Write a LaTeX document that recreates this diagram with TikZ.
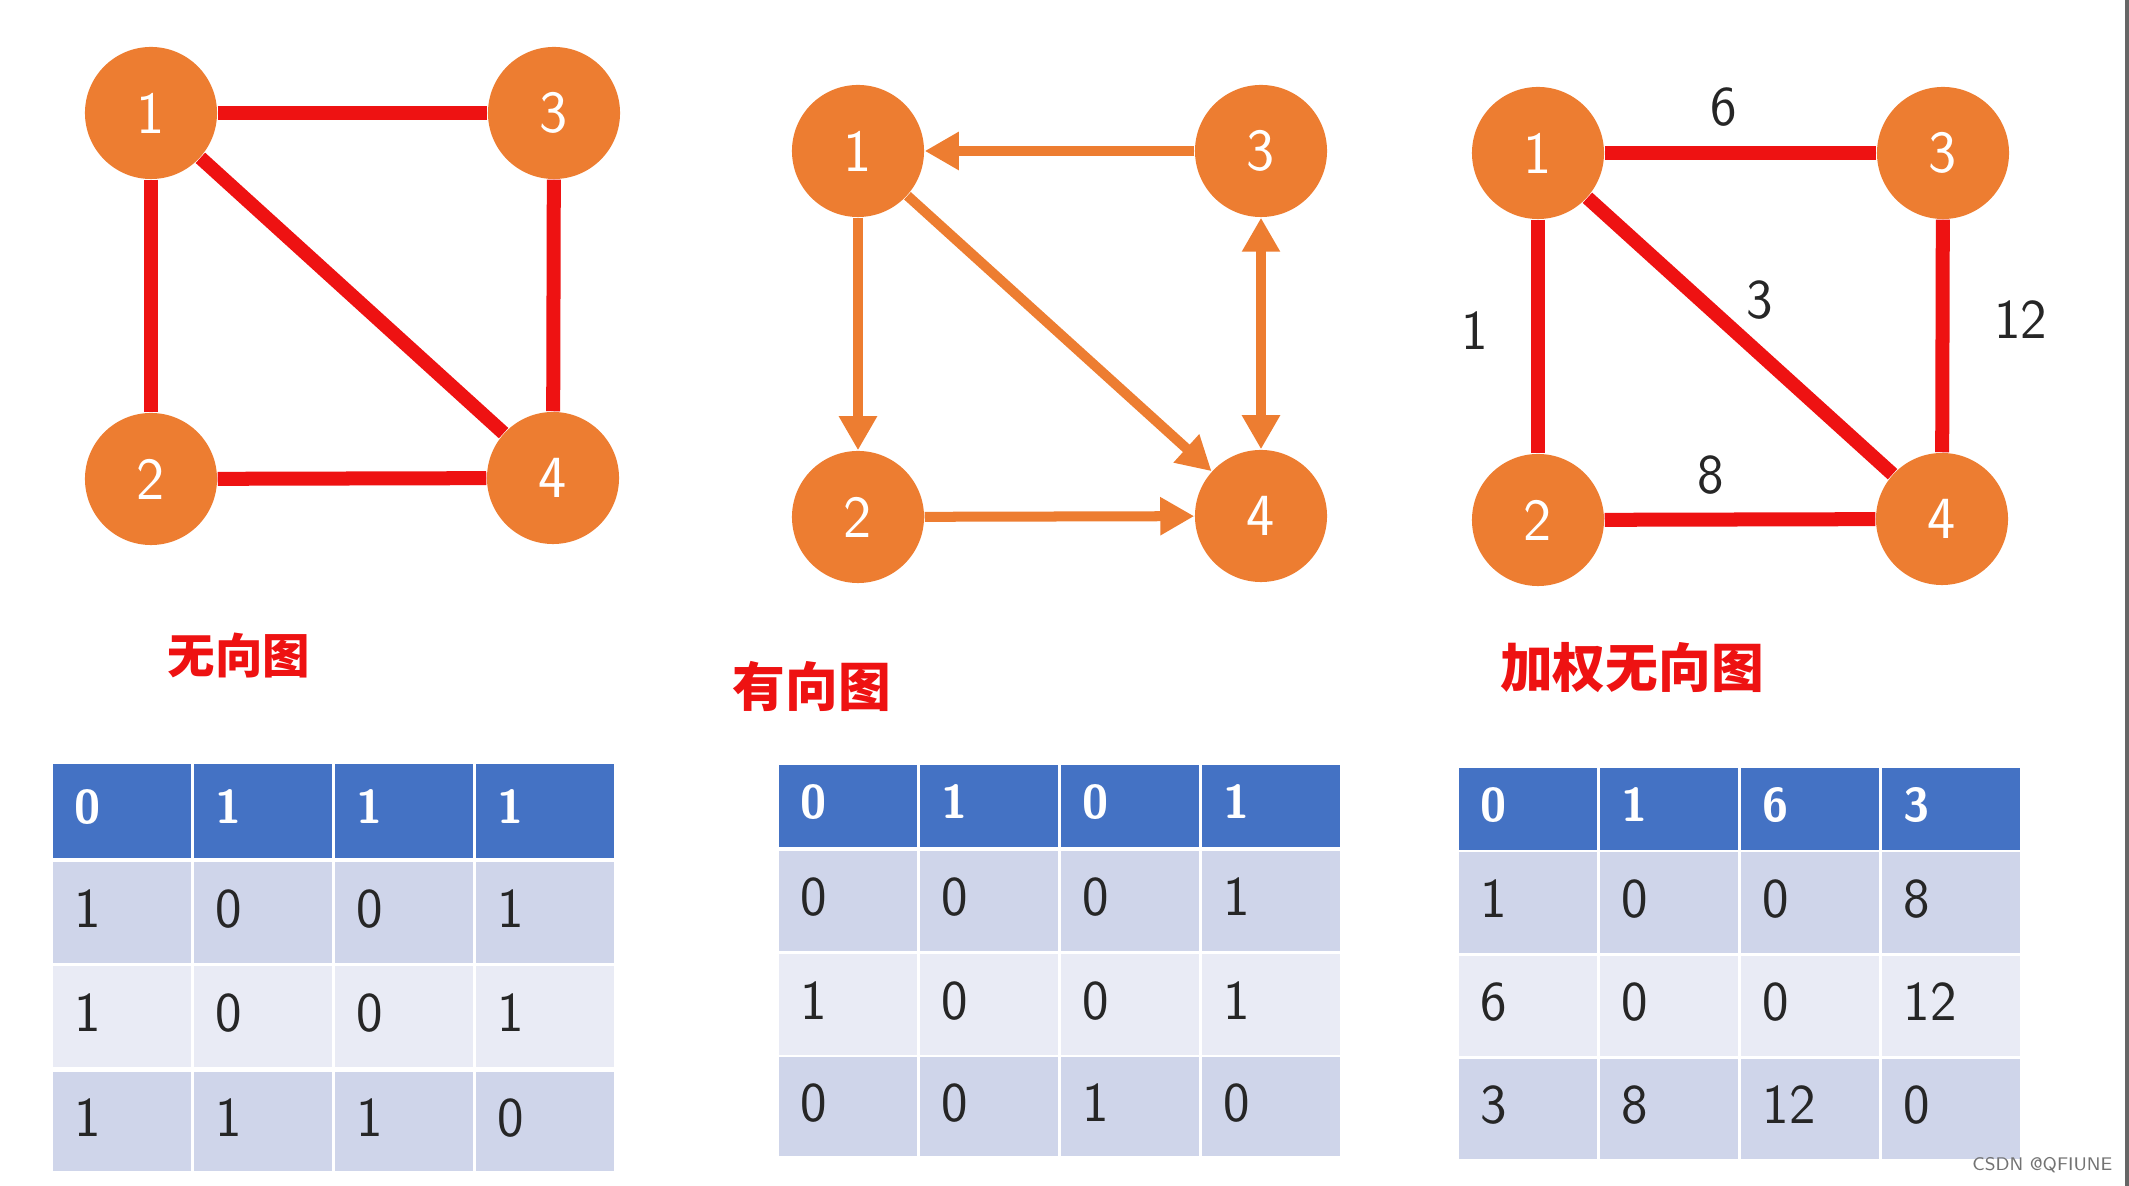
\documentclass[tikz,border=0pt]{standalone}
\usepackage{fontspec}
\newfontfamily\cjkfont{Noto Sans CJK SC}
\usetikzlibrary{positioning, arrows.meta}

\definecolor{vorange}{RGB}{237,125,49}
\definecolor{ered}{RGB}{238,18,18}
\definecolor{hblue}{RGB}{68,114,196}
\definecolor{rowdark}{RGB}{207,213,234}
\definecolor{rowlight}{RGB}{233,235,245}

\tikzset{
  vtx/.style={circle, fill=vorange, minimum size=1.32cm, inner sep=0pt, text=white,
    font=\sffamily\fontsize{17}{17}\selectfont},
  uedge/.style={ered, line width=0.14cm},
  dedge/.style={vorange, line width=0.1cm, -{Triangle[length=0.34cm, width=0.36cm]}},
  wlabel/.style={font=\sffamily\fontsize{16}{16}\selectfont, text=black!85},
  gtitle/.style={font=\cjkfont\bfseries\fontsize{15}{15}\selectfont, text=ered},
  cell/.style={anchor=north west, inner xsep=0.22cm, inner ysep=0pt, text width=0.94cm,
    align=left, font=\sffamily\fontsize{16}{16}\selectfont},
  hdr/.style={fill=hblue, text=white, font=\sffamily\bfseries\fontsize{13.5}{13.5}\selectfont},
  rowa/.style={fill=rowdark, text=black!85},
  rowb/.style={fill=rowlight, text=black!85},
}

\begin{document}
\begin{tikzpicture}[x=0.01cm, y=-0.01cm]
    \useasboundingbox (0,0) rectangle (2129,1186);
    % right screen edge
    \fill[black!60] (2125,0) rectangle (2129,1186);

    % undirected graph
    \node[vtx] (u1) at (151,113) {1};
    \node[vtx] (u3) at (554,113) {3};
    \node[vtx] (u2) at (151,479) {2};
    \node[vtx] (u4) at (553,478) {4};
    \draw[uedge] (u1) -- (u3);
    \draw[uedge] (u1) -- (u2);
    \draw[uedge] (u1) -- (u4);
    \draw[uedge] (u2) -- (u4);
    \draw[uedge] (u3) -- (u4);
    \node[gtitle, font=\cjkfont\bfseries\fontsize{13.5}{13.5}\selectfont] (tu) at (239,656) {无向图};

    % directed graph
    \node[vtx] (d1) at (858,151) {1};
    \node[vtx] (d3) at (1261,151) {3};
    \node[vtx] (d2) at (858,517) {2};
    \node[vtx] (d4) at (1261,516) {4};
    \draw[dedge] (d3) -- (d1);
    \draw[dedge] (d1) -- (d2);
    \draw[dedge] (d1) -- (d4);
    \draw[dedge] (d2) -- (d4);
    \draw[dedge, {Triangle[length=0.34cm, width=0.36cm]}-{Triangle[length=0.34cm, width=0.36cm]}] (d3) -- (d4);
    \node[gtitle] (td) at (812,686) {有向图};

    % weighted undirected graph
    \node[vtx] (w1) at (1538,153) {1};
    \node[vtx] (w3) at (1943,153) {3};
    \node[vtx] (w2) at (1538,520) {2};
    \node[vtx] (w4) at (1942,519) {4};
    \draw[uedge] (w1) -- node[wlabel, xshift=-0.17cm, yshift=0.46cm] {6} (w3);
    \draw[uedge] (w1) -- node[wlabel, xshift=-0.63cm, yshift=0.06cm] {1} (w2);
    \draw[uedge] (w1) -- node[wlabel, xshift=0.2cm, yshift=0.36cm] {3} (w4);
    \draw[uedge] (w2) -- node[wlabel, xshift=-0.29cm, yshift=0.44cm] {8} (w4);
    \draw[uedge] (w3) -- node[wlabel, xshift=0.78cm, yshift=0.16cm] {12} (w4);
    \node[gtitle] (tw) at (1632,668) {加权无向图};

    % adjacency tables
    \foreach \r/\yt/\h/\rs/\vals in {0/763/0.94cm/hdr/{0,1,1,1}, 1/861/1.01cm/rowa/{1,0,0,1},
        2/965/1.01cm/rowb/{1,0,0,1}, 3/1071/0.99cm/rowa/{1,1,1,0}}
      \foreach \v [count=\c from 0] in \vals
        \node[cell, \rs, minimum height=\h, text depth=0.08cm] (ta-\r-\c) at (52+141*\c,\yt) {\v};
    \foreach \r/\yt/\h/\rs/\vals in {0/764/0.82cm/hdr/{0,1,0,1}, 1/850/1.00cm/rowa/{0,0,0,1},
        2/953/1.01cm/rowb/{1,0,0,1}, 3/1056/0.99cm/rowa/{0,0,1,0}}
      \foreach \v [count=\c from 0] in \vals
        \node[cell, \rs, minimum height=\h, text depth=0.08cm] (tb-\r-\c) at (778+141*\c,\yt) {\v};
    \foreach \r/\yt/\h/\rs/\vals in {0/767/0.82cm/hdr/{0,1,6,3}, 1/851/1.01cm/rowa/{1,0,0,8},
        2/955/1.00cm/rowb/{6,0,0,12}, 3/1058/1.00cm/rowa/{3,8,12,0}}
      \foreach \v [count=\c from 0] in \vals
        \node[cell, \rs, minimum height=\h, text depth=0.08cm] (tc-\r-\c) at (1458+141*\c,\yt) {\v};

    \node[anchor=east, inner sep=0pt, font=\sffamily\fontsize{5.2}{5.2}\selectfont, text=black!55] (mark) at (2113,1165) {CSDN @QFIUNE};
\end{tikzpicture}
\end{document}
